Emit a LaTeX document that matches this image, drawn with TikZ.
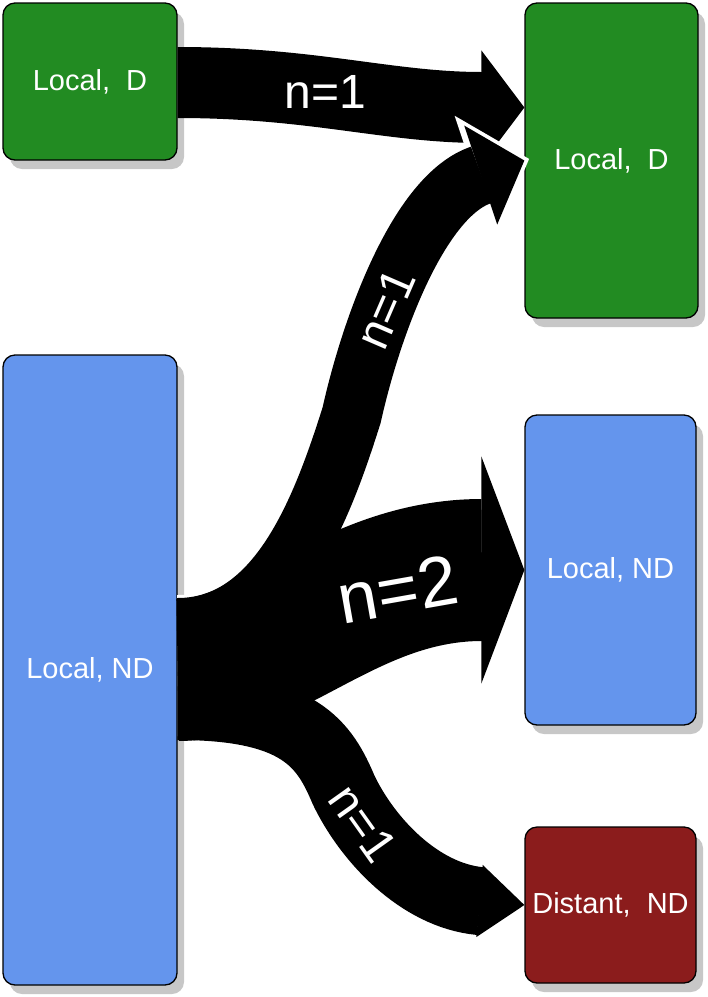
\documentclass[tikz,border=0pt]{standalone}
\usepackage{fontspec}
\setmainfont{Liberation Sans}
\usetikzlibrary{arrows.meta,calc,shadows}

\definecolor{localgreen}{RGB}{34,139,34}
\definecolor{localblue}{RGB}{100,149,237}
\definecolor{distantred}{RGB}{139,28,28}

\begin{document}
\begin{tikzpicture}[x=1pt,y=-1pt,
  main node/.style={rectangle,rounded corners=12pt,draw=black,line width=1.3pt,
    text=white,font=\fontsize{29}{34}\selectfont,inner sep=0pt,
    drop shadow={shadow xshift=7pt,shadow yshift=-9pt,fill=black!22,opacity=1}},
  flow/.style={draw=black,line width=#1},
  flow label/.style={text=white,font=\fontsize{48}{56}\selectfont,inner sep=0pt},
  big label/.style={font=\fontsize{71}{80}\selectfont}]
  \useasboundingbox (0,0) rectangle (708,997);

  \node[main node, fill=localgreen, minimum width=174pt, minimum height=157pt] (1) at (90,81.5) {Local,\ \ D};
  \node[main node, fill=localgreen, minimum width=173pt, minimum height=315pt] (2) at (611.5,160.5) {Local,\ \ D};
  \node[main node, fill=localblue, minimum width=174pt, minimum height=630pt] (3) at (90,670) {Local, ND};
  \node[main node, fill=localblue, minimum width=171pt, minimum height=310pt] (4) at (610.5,570) {Local, ND};
  \node[main node, fill=distantred, minimum width=171pt, minimum height=156pt] (5) at (610.5,905) {Distant,\ \ ND};

  \draw[flow=71pt, -{Triangle[length=43pt,width=114pt,line width=2pt]}]
    ($(1.east)+(0,1)$) to[out=0,in=180] node[flow label,pos=0.42] {n=1} ($(2.west)+(0,-53)$);

  \draw[flow=60pt, -{Triangle[length=46pt,width=104pt,line width=2pt]},
    preaction={draw=white,line width=66pt,shorten >=-5pt,
      -{Triangle[length=57pt,width=129pt,line width=0pt]}}]
    ($(3.east)+(0,-42)$) .. controls +(100,0) and +(-30,95) .. ($(3.east)+(174,-255)$)
    .. controls +(20,-90) and +(-105,35) .. (2.west) node[flow label,pos=0.36,sloped] {n=1};

  \draw[flow=142pt, -{Triangle[length=43pt,width=227pt,line width=2pt]}]
    (3.east) .. controls +(93,0) and +(-175,0) .. (4.west)
    node[flow label,big label,pos=0.72,rotate=10] {n=2};

  \draw[flow=68pt, -{Triangle[length=45pt,width=72pt,line width=2pt]}]
    ($(3.east)+(0,36)$) .. controls +(123,0) and +(-19,-45) .. ($(3.east)+(166,120)$)
    .. controls +(24,50) and +(-60,-6) .. ($(5.west)+(-45,-4)$)
    node[flow label,pos=0.22,sloped] {n=1} -- (5.west);
\end{tikzpicture}
\end{document}
